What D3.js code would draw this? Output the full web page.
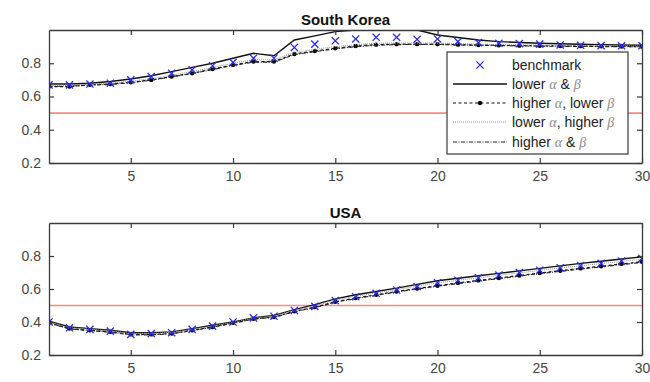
<!DOCTYPE html>
<html>
<head>
<meta charset="utf-8">
<script src="https://cdn.jsdelivr.net/npm/d3@7"></script>
<style>
body { margin: 0; background: #fff; }
svg { font-family: "Liberation Sans", Arial, sans-serif; }
</style>
</head>
<body>
<div id="chart"></div>
<script>
// periods 1..30
var periods = d3.range(1, 31);
var yTicks = [0.2, 0.4, 0.6, 0.8];
var xTicks = [5, 10, 15, 20, 25, 30];
var threshold = 0.5;

// South Korea
var krBenchmark = [0.67, 0.67, 0.675, 0.68, 0.70, 0.72, 0.74, 0.76, 0.785, 0.805, 0.83, 0.83, 0.895, 0.915, 0.935, 0.946, 0.956, 0.956, 0.944, 0.946, 0.93, 0.924, 0.92, 0.918, 0.915, 0.91, 0.908, 0.906, 0.905, 0.905];
var krLowLow = [0.675, 0.675, 0.68, 0.69, 0.705, 0.725, 0.75, 0.775, 0.80, 0.83, 0.86, 0.845, 0.94, 0.965, 0.99, 1.0, 1.0, 1.0, 1.0, 0.97, 0.955, 0.94, 0.93, 0.925, 0.92, 0.917, 0.914, 0.912, 0.91, 0.908];
var krHighLow = [0.66, 0.66, 0.67, 0.675, 0.685, 0.70, 0.72, 0.74, 0.765, 0.79, 0.81, 0.81, 0.856, 0.874, 0.89, 0.904, 0.912, 0.915, 0.915, 0.915, 0.912, 0.91, 0.908, 0.906, 0.905, 0.904, 0.903, 0.902, 0.901, 0.90];
var krLowHigh = [0.668, 0.668, 0.674, 0.68, 0.692, 0.708, 0.728, 0.75, 0.774, 0.8, 0.822, 0.82, 0.866, 0.884, 0.9, 0.912, 0.92, 0.922, 0.922, 0.921, 0.918, 0.915, 0.912, 0.91, 0.909, 0.907, 0.906, 0.905, 0.904, 0.903];
var krHighHigh = [0.662, 0.662, 0.668, 0.673, 0.683, 0.698, 0.718, 0.738, 0.762, 0.787, 0.807, 0.807, 0.852, 0.87, 0.886, 0.9, 0.908, 0.912, 0.913, 0.913, 0.91, 0.908, 0.906, 0.904, 0.903, 0.902, 0.901, 0.9, 0.9, 0.899];

// USA
var usBenchmark = [0.40, 0.365, 0.355, 0.345, 0.325, 0.33, 0.335, 0.355, 0.375, 0.40, 0.425, 0.435, 0.47, 0.495, 0.53, 0.553, 0.574, 0.594, 0.615, 0.638, 0.653, 0.668, 0.684, 0.699, 0.714, 0.728, 0.742, 0.755, 0.77, 0.785];
var usLowLow = [0.405, 0.37, 0.36, 0.35, 0.335, 0.335, 0.34, 0.36, 0.38, 0.40, 0.425, 0.44, 0.475, 0.505, 0.54, 0.565, 0.585, 0.605, 0.628, 0.65, 0.665, 0.68, 0.695, 0.71, 0.725, 0.74, 0.755, 0.768, 0.782, 0.795];
var usHighLow = [0.395, 0.36, 0.35, 0.34, 0.325, 0.325, 0.33, 0.35, 0.37, 0.395, 0.42, 0.43, 0.465, 0.49, 0.523, 0.545, 0.565, 0.585, 0.603, 0.62, 0.637, 0.652, 0.667, 0.682, 0.697, 0.711, 0.725, 0.738, 0.752, 0.765];
var usLowHigh = [0.40, 0.366, 0.356, 0.346, 0.331, 0.331, 0.336, 0.356, 0.376, 0.398, 0.423, 0.436, 0.471, 0.499, 0.533, 0.556, 0.576, 0.596, 0.617, 0.637, 0.653, 0.668, 0.683, 0.698, 0.713, 0.727, 0.741, 0.754, 0.768, 0.781];
var usHighHigh = [0.393, 0.358, 0.348, 0.338, 0.322, 0.322, 0.328, 0.348, 0.368, 0.392, 0.417, 0.428, 0.462, 0.487, 0.52, 0.542, 0.562, 0.582, 0.6, 0.617, 0.633, 0.648, 0.663, 0.678, 0.693, 0.707, 0.721, 0.734, 0.748, 0.761];

var legendLabels = [
  ["benchmark"],
  ["lower ", "α", " & ", "β"],
  ["higher ", "α", ", lower ", "β"],
  ["lower ", "α", ", higher ", "β"],
  ["higher ", "α", " & ", "β"]
];

var blue = "#2b2bf0";
var axisColor = "#3a3a3a";

var svg = d3.select("#chart").append("svg")
  .attr("width", 650)
  .attr("height", 382);

var x = d3.scaleLinear().domain([1, 30]).range([49, 642]);

var styles = [
  {dash: null, color: "#111", width: 1.4, dots: false},
  {dash: "3,2.5", color: "#111", width: 1.2, dots: true},
  {dash: "1,1", color: "#9a9a9a", width: 1.1, dots: false},
  {dash: "4,1.5,1,1.5", color: "#222", width: 1.1, dots: false}
];

function drawPanel(title, top, bottom, benchmark, series, id) {
  var y = d3.scaleLinear().domain([0.2, 1.0]).range([bottom, top]);
  var g = svg.append("g");

  g.append("defs").append("clipPath").attr("id", id)
    .append("rect")
    .attr("x", x(1)).attr("y", top)
    .attr("width", x(30) - x(1)).attr("height", bottom - top);

  // threshold line
  g.append("line")
    .attr("x1", x(1)).attr("x2", x(30))
    .attr("y1", y(threshold)).attr("y2", y(threshold))
    .attr("stroke", "#f28b8b").attr("stroke-width", 1.6);

  var line = d3.line()
    .x(function(d, i) { return x(periods[i]); })
    .y(function(d) { return y(d); });

  var plot = g.append("g").attr("clip-path", "url(#" + id + ")");

  series.forEach(function(s, k) {
    var st = styles[k];
    plot.append("path")
      .datum(s)
      .attr("fill", "none")
      .attr("stroke", st.color)
      .attr("stroke-width", st.width)
      .attr("stroke-dasharray", st.dash)
      .attr("d", line);
    if (st.dots) {
      plot.selectAll(null)
        .data(s)
        .enter()
        .append("circle")
        .attr("cx", function(d, i) { return x(periods[i]); })
        .attr("cy", function(d) { return y(d); })
        .attr("r", 2.2)
        .attr("fill", "#000");
    }
  });

  // benchmark crosses
  var m = 3.6;
  plot.selectAll(null)
    .data(benchmark)
    .enter()
    .append("path")
    .attr("d", function(d, i) {
      var cx = x(periods[i]), cy = y(d);
      return "M" + (cx - m) + "," + (cy - m) + "L" + (cx + m) + "," + (cy + m) +
             "M" + (cx - m) + "," + (cy + m) + "L" + (cx + m) + "," + (cy - m);
    })
    .attr("stroke", blue)
    .attr("stroke-width", 1.3)
    .attr("fill", "none");

  // axes (MATLAB-style box with inward ticks)
  var left = g.append("g").attr("transform", "translate(" + x(1) + ",0)")
    .call(d3.axisLeft(y).tickValues(yTicks).tickSizeInner(-5).tickSizeOuter(0).tickPadding(8).tickFormat(d3.format(".1f")));
  var right = g.append("g").attr("transform", "translate(" + x(30) + ",0)")
    .call(d3.axisRight(y).tickValues(yTicks).tickSizeInner(-5).tickSizeOuter(0).tickFormat(""));
  var bot = g.append("g").attr("transform", "translate(0," + bottom + ")")
    .call(d3.axisBottom(x).tickValues(xTicks).tickSizeInner(-5).tickSizeOuter(0).tickPadding(8));
  var topAx = g.append("g").attr("transform", "translate(0," + top + ")")
    .call(d3.axisTop(x).tickValues(xTicks).tickSizeInner(-5).tickSizeOuter(0).tickFormat(""));

  [left, right, bot, topAx].forEach(function(a) {
    a.select(".domain").attr("stroke", axisColor).attr("stroke-width", 1.3);
    a.selectAll(".tick line").attr("stroke", axisColor).attr("stroke-width", 1.2);
    a.selectAll(".tick text").attr("fill", "#444").style("font-size", "14px")
      .style("font-family", "'Liberation Sans', Arial, sans-serif");
  });

  g.append("text")
    .attr("x", (x(1) + x(30)) / 2)
    .attr("y", top - 5)
    .attr("text-anchor", "middle")
    .style("font-weight", "bold")
    .style("font-size", "15px")
    .attr("fill", "#111")
    .text(title);

  return y;
}

drawPanel("South Korea", 30, 163, krBenchmark, [krLowLow, krHighLow, krLowHigh, krHighHigh], "clipKR");
drawPanel("USA", 223, 355, usBenchmark, [usLowLow, usHighLow, usLowHigh, usHighHigh], "clipUS");

// legend
var lg = svg.append("g");
lg.append("rect")
  .attr("x", 447).attr("y", 52)
  .attr("width", 181).attr("height", 102)
  .attr("fill", "#fff")
  .attr("stroke", axisColor).attr("stroke-width", 1.2);

var rowY = [65, 84, 103, 122, 142];
legendLabels.forEach(function(parts, i) {
  var ly = rowY[i];
  if (i === 0) {
    var cx = 480, m = 3.6;
    lg.append("path")
      .attr("d", "M" + (cx - m) + "," + (ly - m) + "L" + (cx + m) + "," + (ly + m) +
                 "M" + (cx - m) + "," + (ly + m) + "L" + (cx + m) + "," + (ly - m))
      .attr("stroke", blue).attr("stroke-width", 1.3);
  } else {
    var st = styles[i - 1];
    lg.append("line")
      .attr("x1", 453).attr("x2", 507)
      .attr("y1", ly).attr("y2", ly)
      .attr("stroke", st.color)
      .attr("stroke-width", st.width)
      .attr("stroke-dasharray", st.dash);
    if (st.dots) {
      lg.append("circle").attr("cx", 480).attr("cy", ly).attr("r", 2.2).attr("fill", "#000");
    }
  }
  var t = lg.append("text")
    .attr("x", 512).attr("y", ly + 5)
    .style("font-size", "14px")
    .attr("fill", "#222");
  parts.forEach(function(p) {
    var greek = (p === "α" || p === "β");
    t.append("tspan")
      .text(p)
      .attr("fill", greek ? "#8a8a8a" : "#222")
      .style("font-style", greek ? "italic" : "normal")
      .style("font-family", greek ? "'Liberation Serif', serif" : null);
  });
});
</script>
</body>
</html>
